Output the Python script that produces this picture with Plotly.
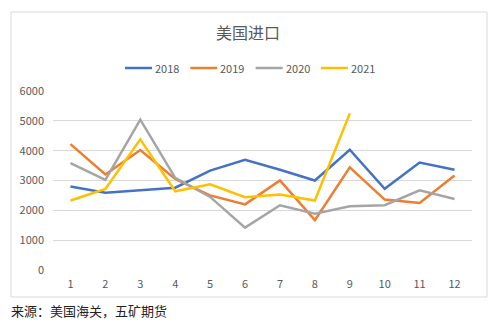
import plotly.graph_objects as go

months = [str(m) for m in range(1, 13)]
y2018 = [2800, 2590, 2670, 2760, 3330, 3690, 3360, 3000, 4030, 2720, 3600, 3360]
y2019 = [4220, 3200, 4020, 3050, 2500, 2200, 3000, 1670, 3440, 2360, 2250, 3170]
y2020 = [3580, 3020, 5040, 3090, 2450, 1420, 2170, 1890, 2140, 2170, 2670, 2380]
y2021 = [2330, 2720, 4380, 2640, 2870, 2440, 2530, 2330, 5250]

series = [
    ("2018", y2018, "#4472C4"),
    ("2019", y2019, "#ED7D31"),
    ("2020", y2020, "#A5A5A5"),
    ("2021", y2021, "#FFC000"),
]

FONT = "Noto Sans CJK SC"
TXT = "#595959"

fig = go.Figure()
for name, vals, color in series:
    fig.add_trace(go.Scatter(
        x=months[:len(vals)], y=vals, name=name, mode="lines",
        line=dict(color=color, width=2.5), showlegend=False,
    ))

# plot area geometry (px) used to place the frame, legend and footnote
L, R, T, B = 53, 28, 91, 53
W, H = 500 - L - R, 323 - T - B

def px_x(px):
    return (px - L) / W

def px_y(py):
    return (323 - B - py) / H

shapes = [dict(type="rect", xref="paper", yref="paper",
               x0=px_x(11), x1=px_x(487), y0=px_y(297), y1=px_y(12),
               line=dict(color="#D9D9D9", width=1), layer="below")]
annotations = [dict(text="来源：美国海关，五矿期货", xref="paper", yref="paper",
                    x=px_x(9), y=px_y(310), xanchor="left", yanchor="middle",
                    showarrow=False, font=dict(size=13, color="#222222", family=FONT))]

# compact horizontal legend: short line swatch followed by the series name
LEG_X0, LEG_STEP, LEG_Y, SWATCH = 125, 65.3, 68, 27
for i, (name, _, color) in enumerate(series):
    x0 = LEG_X0 + i * LEG_STEP
    shapes.append(dict(type="line", xref="paper", yref="paper",
                       x0=px_x(x0), x1=px_x(x0 + SWATCH),
                       y0=px_y(LEG_Y), y1=px_y(LEG_Y),
                       line=dict(color=color, width=2.5)))
    annotations.append(dict(text=name, xref="paper", yref="paper",
                            x=px_x(x0 + SWATCH + 1), y=px_y(LEG_Y),
                            xanchor="left", yanchor="middle", showarrow=False,
                            font=dict(size=11, color=TXT, family=FONT)))

fig.update_layout(
    width=500, height=323,
    margin=dict(l=L, r=R, t=T, b=B, autoexpand=False),
    paper_bgcolor="white", plot_bgcolor="white",
    font=dict(family=FONT, color=TXT, size=11),
    showlegend=False,
    title=dict(text="美国进口", x=0.496, xref="container", xanchor="center",
               y=1 - 33 / 323, yref="container", yanchor="middle",
               automargin=False,
               font=dict(size=16, color=TXT, family=FONT)),
    xaxis=dict(type="category", range=[-0.5, 11.5], showgrid=False,
               showline=False, zeroline=False, ticks="",
               ticklabelstandoff=6,
               tickfont=dict(size=11, color=TXT)),
    yaxis=dict(range=[0, 6000], dtick=1000, showgrid=True, gridcolor="#D9D9D9",
               gridwidth=1, zeroline=False, showline=False, ticks="",
               ticklabelstandoff=8,
               tickfont=dict(size=11, color=TXT)),
    shapes=shapes,
    annotations=annotations,
)

fig.write_html("out.html")
